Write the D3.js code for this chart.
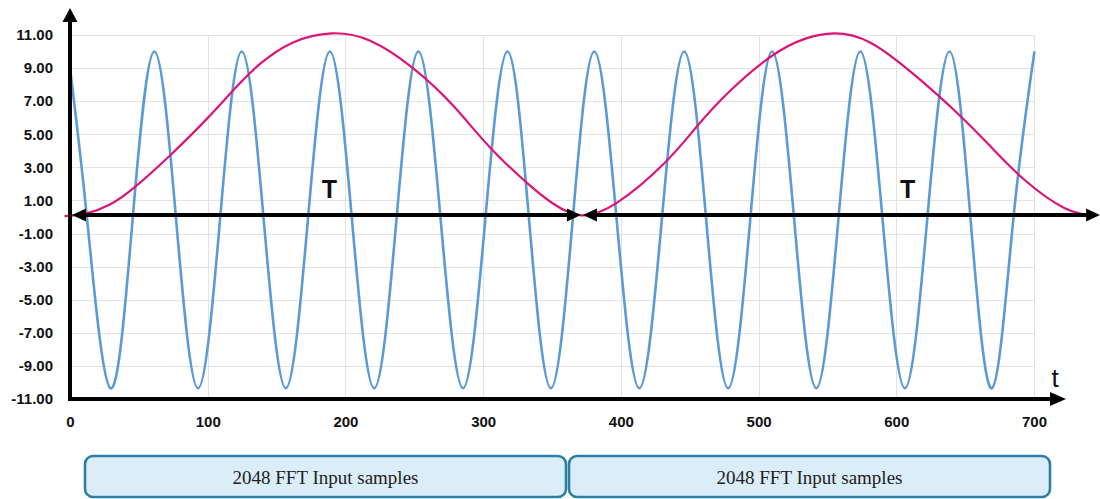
<!DOCTYPE html>
<html>
<head>
<meta charset="utf-8">
<script src="https://cdn.jsdelivr.net/npm/d3@7"></script>
<style>
  html, body { margin: 0; padding: 0; background: #fff; }
  svg { display: block; }
</style>
</head>
<body>
<svg id="chart" width="1100" height="499"></svg>
<script>
// Sampled carrier (blue): time positions and amplitudes
const carrierT = [0, 12.5, 29.4, 45.4, 61.3, 77.1, 93.0, 108.9, 124.7, 140.7, 156.7, 172.7, 188.7,
  204.8, 220.9, 237.0, 253.0, 269.2, 285.4, 301.5, 317.7, 333.4, 349.2, 365.0, 380.7,
  397.0, 413.4, 429.7, 446.0, 462.0, 477.9, 493.9, 509.8, 525.9, 541.9, 557.9, 573.9,
  590.1, 606.3, 622.4, 638.6, 654.0, 669.5, 684.9, 700.3];
const carrierV = [9.0, -0.2, -10.35, -0.2, 10.0, -0.2, -10.35, -0.2, 10.0, -0.2, -10.35, -0.2, 10.0,
  -0.2, -10.35, -0.2, 10.0, -0.2, -10.35, -0.2, 10.0, -0.2, -10.35, -0.2, 10.0,
  -0.2, -10.35, -0.2, 10.0, -0.2, -10.35, -0.2, 10.0, -0.2, -10.35, -0.2, 10.0,
  -0.2, -10.35, -0.2, 10.0, -0.2, -10.35, -0.2, 10.0];

// Window envelope (magenta), two periods
const windowT = [-4, 12, 29, 47, 73, 99, 119, 138, 162, 190, 218, 249, 278, 305, 332, 351, 371,
  397, 431, 455, 479, 509, 533, 555, 581, 613, 644, 668, 693, 722, 743];
const windowV = [0.05, 0.22, 0.75, 1.8, 3.75, 5.9, 7.7, 9.25, 10.55, 11.1, 10.65, 9.0, 6.75, 4.2, 2.05, 0.8, 0.1,
  0.85, 3.2, 5.45, 7.6, 9.7, 10.75, 11.1, 10.55, 8.6, 6.3, 4.3, 2.25, 0.55, 0.1];

// Axis ticks
const xTicks = [0, 100, 200, 300, 400, 500, 600, 700];
const yTicks = [-11, -9, -7, -5, -3, -1, 1, 3, 5, 7, 9, 11];

// Period spans marked with double arrows and "T"
const spanStart = [0, 371];
const spanEnd = [371, 748];
const spanMid = [189, 609];
const spanLabel = ["T", "T"];
const spanLevel = 0.12;

// Sample blocks under the axis
const blockLabels = ["2048 FFT Input samples", "2048 FFT Input samples"];

const svg = d3.select("#chart");
const x = d3.scaleLinear().domain([0, 700]).range([70, 1034]);
const y = d3.scaleLinear().domain([-11, 11]).range([399, 35]);

// Grid
const grid = svg.append("g").attr("stroke", "#e3e3e3").attr("stroke-width", 1);
grid.selectAll("line.h").data(yTicks).join("line")
  .attr("x1", x(0)).attr("x2", x(700))
  .attr("y1", d => Math.round(y(d)) + 0.5).attr("y2", d => Math.round(y(d)) + 0.5);
grid.selectAll("line.v").data(xTicks.slice(1)).join("line")
  .attr("y1", y(11)).attr("y2", y(-11))
  .attr("x1", d => Math.round(x(d)) + 0.5).attr("x2", d => Math.round(x(d)) + 0.5);

// Tick labels (plain hyphen for negatives)
const fmt2 = d => d3.format(".2f")(d).replace("\u2212", "-");
const yAxis = svg.append("g").attr("transform", `translate(${x(0)},0)`)
  .call(d3.axisLeft(y).tickValues(yTicks).tickFormat(fmt2).tickSize(0).tickPadding(17));
const xAxis = svg.append("g").attr("transform", `translate(0,${y(-11)})`)
  .call(d3.axisBottom(x).tickValues(xTicks).tickFormat(d3.format("d")).tickSize(0).tickPadding(17));
[yAxis, xAxis].forEach(a => {
  a.select(".domain").remove();
  a.selectAll("text").attr("font-family", "Liberation Sans, Arial, sans-serif")
    .attr("font-weight", "bold").attr("font-size", 15).attr("fill", "#111");
});

// Series
const line = d3.line().curve(d3.curveNatural).x(d => x(d[0])).y(d => y(d[1]));
svg.append("path")
  .datum(carrierT.map((t, i) => [t, carrierV[i]]))
  .attr("d", line).attr("fill", "none")
  .attr("stroke", "#5b9bd5").attr("stroke-width", 2.6).attr("stroke-linejoin", "round");
svg.append("path")
  .datum(windowT.map((t, i) => [t, windowV[i]]))
  .attr("d", line)
  .attr("fill", "none").attr("stroke", "#dc1478").attr("stroke-width", 2.2);

// Arrowhead helper: tip at (tx, ty) pointing along (dx, dy)
function head(tx, ty, dx, dy, len, half) {
  const bx = tx - dx * len, by = ty - dy * len;
  const px = -dy * half, py = dx * half;
  return `M${tx},${ty}L${bx + px},${by + py}L${bx - px},${by - py}Z`;
}

// Axis lines
const axes = svg.append("g").attr("fill", "#000");
axes.append("line").attr("x1", x(0)).attr("x2", x(0)).attr("y1", y(-11) + 2).attr("y2", 20)
  .attr("stroke", "#000").attr("stroke-width", 4);
axes.append("path").attr("d", head(x(0), 8, 0, -1, 14, 7.5));
axes.append("line").attr("x1", x(0) - 2).attr("x2", 1052).attr("y1", y(-11)).attr("y2", y(-11))
  .attr("stroke", "#000").attr("stroke-width", 4);
axes.append("path").attr("d", head(1066, y(-11), 1, 0, 16, 7));
svg.append("text").attr("x", 1055).attr("y", 387).attr("text-anchor", "middle")
  .attr("font-family", "Liberation Sans, Arial, sans-serif").attr("font-size", 26).attr("fill", "#111")
  .text("t");

// Period arrows
const spans = svg.append("g");
spanStart.forEach((s, i) => {
  const x0 = x(s), x1 = x(spanEnd[i]), yy = y(spanLevel);
  spans.append("line").attr("x1", x0 + 8).attr("x2", x1 - 8).attr("y1", yy).attr("y2", yy)
    .attr("stroke", "#000").attr("stroke-width", 4);
  spans.append("path").attr("d", head(x0 + 2, yy, -1, 0, 14, 6.5)).attr("fill", "#000");
  spans.append("path").attr("d", head(x1, yy, 1, 0, 14, 6.5)).attr("fill", "#000");
  spans.append("text").attr("x", x(spanMid[i]) - 1).attr("y", 198)
    .attr("text-anchor", "middle").attr("font-family", "Liberation Sans, Arial, sans-serif")
    .attr("font-weight", "bold").attr("font-size", 25).attr("fill", "#111").text(spanLabel[i]);
});

// Sample blocks
const blocks = svg.append("g");
const blockX = [85, 569], blockW = 481;
blockLabels.forEach((lbl, i) => {
  blocks.append("rect").attr("x", blockX[i]).attr("y", 456).attr("width", blockW).attr("height", 41)
    .attr("rx", 8).attr("fill", "#daedf8").attr("stroke", "#2f7fa5").attr("stroke-width", 2.6);
  blocks.append("text").attr("x", blockX[i] + blockW / 2).attr("y", 484).attr("text-anchor", "middle")
    .attr("font-family", "Liberation Serif, serif").attr("font-size", 19).attr("fill", "#222").text(lbl);
});
</script>
</body>
</html>
